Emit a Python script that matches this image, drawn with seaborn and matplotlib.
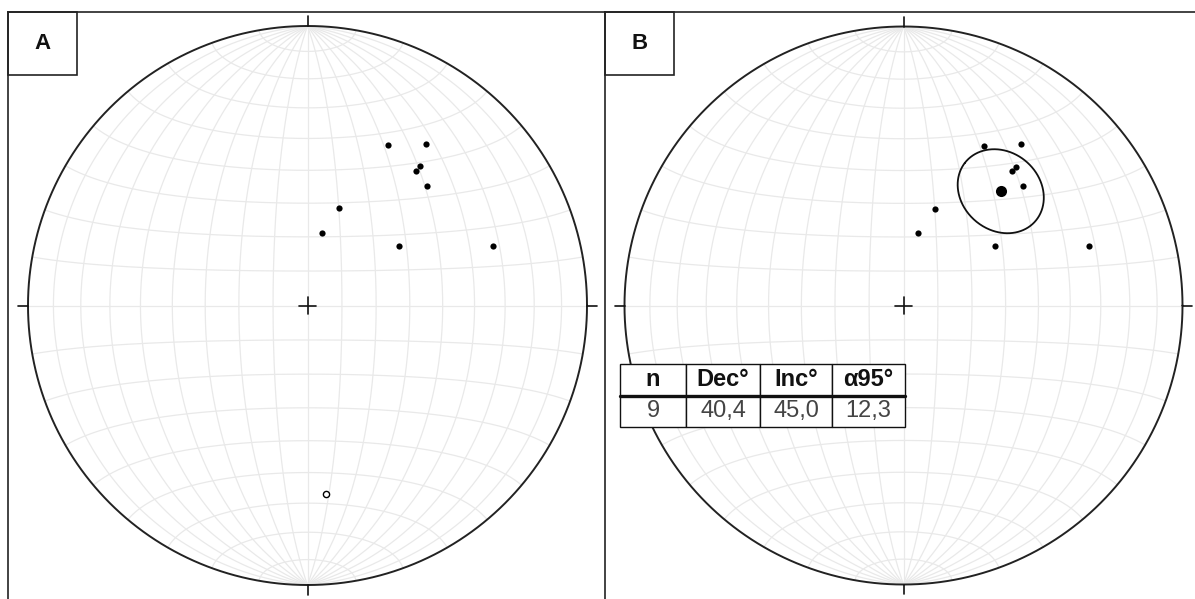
import numpy as np
import seaborn as sns
import matplotlib
matplotlib.use("Agg")
from matplotlib import pyplot as plt
from matplotlib.patches import Rectangle
from matplotlib.lines import Line2D

dec_normal = [26.8, 36.1, 38.9, 39.0, 45.1, 17.8, 11.5, 56.8, 72.2]
inc_normal = [36.0, 29.1, 36.2, 38.1, 39.3, 60.1, 68.3, 58.0, 30.9]
dec_reverso = [174.3]
inc_reverso = [-32.8]

# media de Fisher (painel B)
n_amostras = 9
dec_media = 40.4
inc_media = 45.0
alfa95 = 12.3

colunas_tabela = ["n", "Dec°", "Inc°", "α95°"]
valores_tabela = ["9", "40,4", "45,0", "12,3"]

W, H = 1195, 599


def projetar(dec, inc):
    """Projecao de igual area (Schmidt) no circulo unitario."""
    dec = np.radians(np.asarray(dec, float))
    inc = np.radians(np.abs(np.asarray(inc, float)))
    r = np.sqrt(1 - np.sin(inc))
    return r * np.sin(dec), r * np.cos(dec)


def circulo_confianca(dec, inc, a95):
    D, I, a = np.radians([dec, inc, a95])
    m = np.array([np.cos(I) * np.cos(D), np.cos(I) * np.sin(D), np.sin(I)])
    u = np.cross(m, [0, 0, 1.0])
    u /= np.linalg.norm(u)
    v = np.cross(m, u)
    phi = np.linspace(0, 2 * np.pi, 361)
    p = (np.cos(a) * m[:, None]
         + np.sin(a) * (np.cos(phi) * u[:, None] + np.sin(phi) * v[:, None]))
    n, e, d = p
    return projetar(np.degrees(np.arctan2(e, n)), np.degrees(np.arcsin(d)))


def rede(ax):
    t = np.radians(np.linspace(-90, 90, 241))
    cor = "#e9e9e9"
    for g in range(-80, 81, 10):
        a = np.radians(g)
        # meridianos
        x, y, z = np.cos(t) * np.sin(a), np.sin(t), np.cos(t) * np.cos(a)
        k = 1 / np.sqrt(1 + z)
        ax.plot(x * k, y * k, color=cor, lw=0.9, zorder=1)
        # paralelos
        x, y, z = np.cos(a) * np.sin(t), np.sin(a) * np.ones_like(t), np.cos(a) * np.cos(t)
        k = 1 / np.sqrt(1 + z)
        ax.plot(x * k, y * k, color=cor, lw=0.9, zorder=1)
    th = np.linspace(0, 2 * np.pi, 721)
    ax.plot(np.cos(th), np.sin(th), color="#222", lw=1.4, zorder=3)
    # marcas N, E, S, W e cruz central
    for ang in range(0, 360, 90):
        s, c = np.sin(np.radians(ang)), np.cos(np.radians(ang))
        ax.plot([s, 1.034 * s], [c, 1.034 * c], color="#111", lw=1.2, zorder=3)
    ax.plot([-0.032, 0.032], [0, 0], color="#111", lw=1.2, zorder=3)
    ax.plot([0, 0], [-0.032, 0.032], color="#111", lw=1.2, zorder=3)


def painel(x0, x1, cx, R, letra):
    top = 12
    ax = fig.add_axes([x0 / W, 0, (x1 - x0) / W, (H - top) / H])
    cy = 305.5
    ax.set_xlim(-(cx - x0) / R, (x1 - cx) / R)
    ax.set_ylim(-(H - cy) / R, (cy - top) / R)
    ax.set_xticks([])
    ax.set_yticks([])
    sns.despine(ax=ax, top=False, right=True, left=False, bottom=True)
    for lado in ("left", "top"):
        ax.spines[lado].set_color("#222")
        ax.spines[lado].set_linewidth(1.2)
    bw, bh = 69 / (x1 - x0), 63 / (H - top)
    ax.add_patch(Rectangle((0, 1 - bh), bw, bh, transform=ax.transAxes,
                           fill=False, edgecolor="#222", lw=1.2, clip_on=False, zorder=6))
    ax.text(bw / 2, 1 - bh / 2, letra, transform=ax.transAxes, ha="center",
            va="center", fontsize=16, fontweight="bold", color="#111")
    rede(ax)
    return ax


sns.set_theme(style="white")
plt.rcParams["font.family"] = ["Liberation Sans", "DejaVu Sans"]

fig = plt.figure(figsize=(W / 100, H / 100), dpi=100)

xn, yn = projetar(dec_normal, inc_normal)
xr, yr = projetar(dec_reverso, inc_reverso)

# Painel A
axA = painel(8, 605, 307.5, 279.5, "A")
sns.scatterplot(x=xn, y=yn, ax=axA, color="black", s=20, linewidth=0, zorder=5)
sns.scatterplot(x=xr, y=yr, ax=axA, color="white", edgecolor="black", s=20,
                linewidth=1.0, zorder=5)

# Painel B
axB = painel(605, 1195, 903.5, 279.0, "B")
sns.scatterplot(x=xn, y=yn, ax=axB, color="black", s=20, linewidth=0, zorder=5)
xm, ym = projetar([dec_media], [inc_media])
sns.scatterplot(x=xm, y=ym, ax=axB, color="black", s=64, linewidth=0, zorder=5)
xc, yc = circulo_confianca(dec_media, inc_media, alfa95)
axB.plot(xc, yc, color="#111", lw=1.3, zorder=4)

bx, by, bw, bh = 15 / 590, (H - 427) / 587, 285 / 590, 63 / 587
tab = axB.table(cellText=[valores_tabela], colLabels=colunas_tabela,
                colWidths=[66, 74, 72, 73], cellLoc="center",
                bbox=[bx, by, bw, bh])
tab.auto_set_font_size(False)
tab.set_fontsize(17)
tab.set_zorder(10)
for (lin, col), cel in tab.get_celld().items():
    cel.set_linewidth(1.0)
    cel.set_edgecolor("#111")
    if lin == 0:
        cel.set_text_props(fontweight="bold", color="#111")
    else:
        cel.set_text_props(color="#444")
axB.add_line(Line2D([bx, bx + bw], [by + bh / 2, by + bh / 2], transform=axB.transAxes,
                    color="#111", lw=2.4, zorder=11))

fig.savefig("out.png", dpi=100)
